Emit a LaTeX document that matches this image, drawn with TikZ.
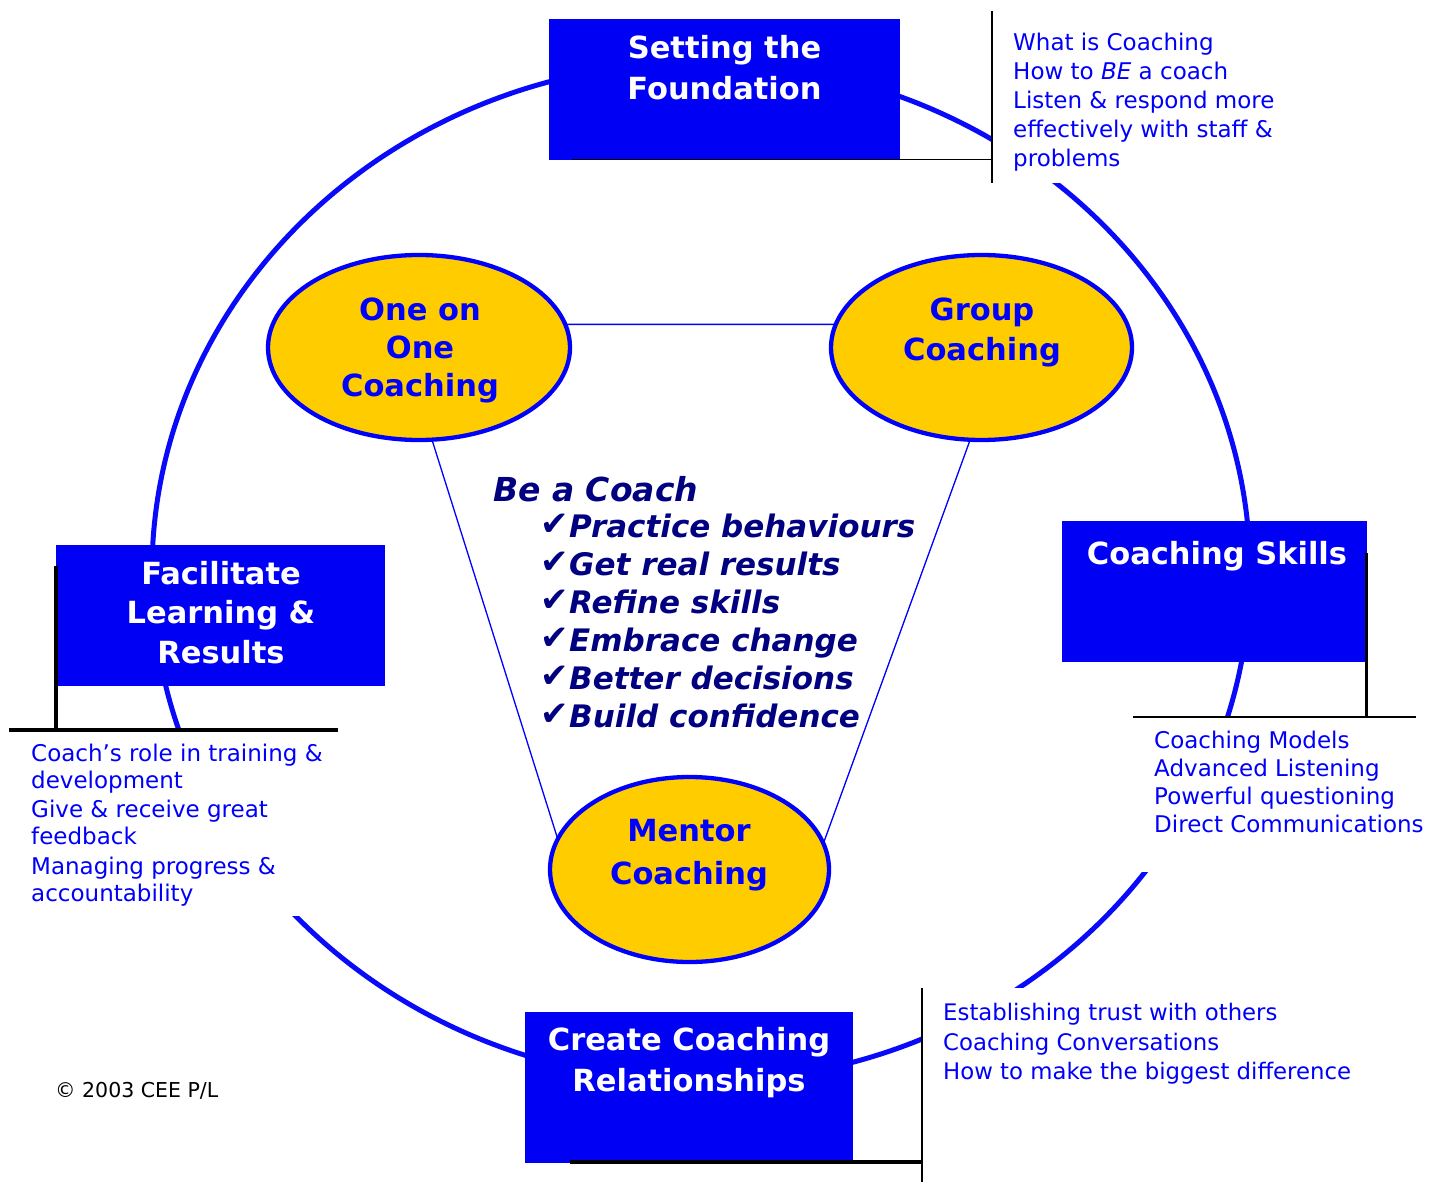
\documentclass[tikz,border=0pt]{standalone}
\usepackage{fontspec}
\usepackage{graphicx}
\setmainfont{DejaVu Sans}
\usetikzlibrary{shapes.geometric}
\definecolor{boxblue}{RGB}{0,0,245}
\definecolor{txtblue}{RGB}{0,0,250}
\definecolor{arcblue}{RGB}{10,10,250}
\definecolor{gold}{RGB}{255,204,0}
\definecolor{navy}{RGB}{0,0,128}
\newcommand\tabc[1]{\begin{tabular}[t]{@{}c@{}}#1\end{tabular}}
\newcommand\tabl[1]{\begin{tabular}[t]{@{}l@{}}#1\end{tabular}}
\newcommand\ckm{\makebox[29pt][l]{\raisebox{2pt}{\fontsize{34}{34}\selectfont\mdseries\upshape ✔}}}
\tikzset{
  bigarc/.style={draw=arcblue, line width=5pt},
  bluebox/.style={rectangle, fill=boxblue, draw=none, inner sep=0pt, outer sep=0pt},
  goldell/.style={ellipse, draw=blue, line width=4.3pt, fill=gold, inner sep=0pt, outer sep=0pt},
  conn/.style={draw=blue, line width=1.5pt},
  thinblk/.style={draw=black, line width=1.4pt},
  thickblk/.style={draw=black, line width=3.7pt},
  boxtitle/.style={text=white, anchor=base, inner sep=0pt},
  elltitle/.style={text=blue, anchor=base, inner sep=0pt},
  listtxt/.style={text=txtblue, anchor=base west, inner sep=0pt},
  navytxt/.style={text=navy, anchor=base west, inner sep=0pt}
}
\begin{document}
\begin{tikzpicture}[x=1pt,y=-1pt]
\useasboundingbox (0,0) rectangle (1437,1182);
\fill[white] (0,0) rectangle (1437,1182);

% big ring
\draw[bigarc] (701,572) ellipse [x radius=549pt, y radius=510pt];

% white areas behind side texts
\fill[white] (993,10) rectangle (1300,183.5);
\fill[white] (1133,718) rectangle (1425,872);
\fill[white] (9,732) rectangle (338,916);
\fill[white] (923,988) rectangle (1370,1100);

% blue boxes
\node[bluebox, minimum width=351, minimum height=141] (found) at (724.5,89.5) {};
\node[bluebox, minimum width=305, minimum height=141] (skills) at (1214.5,591.5) {};
\node[bluebox, minimum width=329, minimum height=141] (facil) at (220.5,615.5) {};
\node[bluebox, minimum width=328, minimum height=151] (create) at (689,1087.5) {};

% black lines
\draw[thinblk] (572,159.5) -- (992,159.5);
\draw[thinblk] (992,11) -- (992,183);
\draw[thickblk] (1366.5,553) -- (1366.5,717);
\draw[thinblk] (1133,717) -- (1416,717);
\draw[thickblk] (56,566) -- (56,730);
\draw[thickblk] (9,730) -- (338,730);
\draw[thickblk] (570,1162) -- (922,1162);
\draw[thinblk] (922,988) -- (922,1182);

% box titles
\node[boxtitle, font={\fontsize{30.5}{41}\selectfont\bfseries}] (foundt) at (724.5,59) {\tabc{Setting the\\Foundation}};
\node[boxtitle, font={\fontsize{30.5}{41}\selectfont\bfseries}] (skillst) at (1217,564) {Coaching Skills};
\node[boxtitle, font={\fontsize{30.5}{39.5}\selectfont\bfseries}] (facilt) at (221,584) {\tabc{Facilitate\\Learning \&\\Results}};
\node[boxtitle, font={\fontsize{30.5}{41.7}\selectfont\bfseries}] (createt) at (689,1050) {\tabc{Create Coaching\\Relationships}};

% gold ellipses
\node[goldell, minimum width=302, minimum height=185] (one) at (419,347.5) {};
\node[goldell, minimum width=301, minimum height=185] (group) at (981.5,347.5) {};
\node[goldell, minimum width=279, minimum height=185] (mentor) at (689.5,869.5) {};

% connectors
\draw[conn] (one.9) -- (group.171);
\draw[conn, line width=1.3pt] (one.-82) -- (mentor.167);
\draw[conn, line width=1.3pt] (group.-97) -- (mentor.11);

% ellipse titles
\node[elltitle, font={\fontsize{30.5}{38.3}\selectfont\bfseries}] (onet) at (420,320) {\tabc{One on\\One\\Coaching}};
\node[elltitle, font={\fontsize{30.5}{40}\selectfont\bfseries}] (groupt) at (982,320) {\tabc{Group\\Coaching}};
\node[elltitle, font={\fontsize{30.5}{42.3}\selectfont\bfseries}] (mentort) at (689,841.7) {\tabc{Mentor\\Coaching}};

% side lists
\node[listtxt, font={\fontsize{23}{29}\selectfont}] (toplist) at (1013,51) {\tabl{What is Coaching\\How to \textit{BE} a coach\\Listen \& respond more\\effectively with staff \&\\problems}};
\node[listtxt, font={\fontsize{23}{26.7}\selectfont}] (leftlist) at (31,761.7) {\tabl{Coach’s role in training \&\\development\\[2.3pt]Give \& receive great\\feedback\\[3.6pt]Managing progress \&\\accountability}};
\node[listtxt, font={\fontsize{23}{28.1}\selectfont}] (rightlist) at (1154,748.3) {\tabl{Coaching Models\\Advanced Listening\\Powerful questioning\\Direct Communications}};
\node[listtxt, font={\fontsize{22.8}{29.3}\selectfont}] (botlist) at (943,1020.7) {\tabl{Establishing trust with others\\Coaching Conversations\\How to make the biggest difference}};

% centre text
\node[navytxt, font={\fontsize{33}{38}\selectfont\bfseries\itshape}] (beac) at (493,501) {Be a Coach};
\node[navytxt, font={\fontsize{31}{38}\selectfont\bfseries\itshape}] (checks) at (540,537) {\tabl{\ckm Practice behaviours\\\ckm Get real results\\\ckm Refine skills\\\ckm Embrace change\\\ckm Better decisions\\\ckm Build confidence}};

% copyright
\node[anchor=base west, inner sep=0pt, font={\fontsize{20.5}{24}\selectfont}] (copy) at (55,1097.5) {© 2003 CEE P/L};
\end{tikzpicture}
\end{document}
